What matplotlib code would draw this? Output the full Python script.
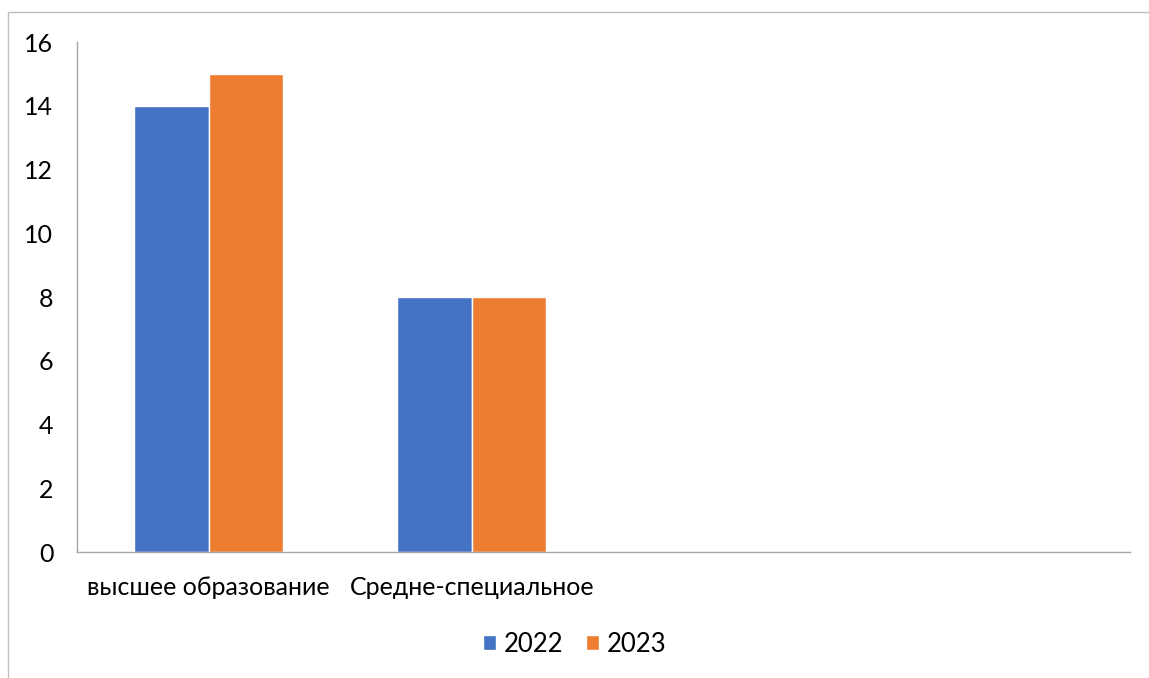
import matplotlib.pyplot as plt
import numpy as np
from matplotlib.patches import Rectangle

plt.rcParams['font.family'] = ['Lato', 'DejaVu Sans']

# данные
categories = ['высшее образование', 'Средне-специальное', '', '']
values_2022 = [14, 8, 0, 0]
values_2023 = [15, 8, 0, 0]
series_names = ['2022', '2023']
y_ticks = [0, 2, 4, 6, 8, 10, 12, 14, 16]

fig = plt.figure(figsize=(11.49, 6.78), dpi=100)
# рамка вокруг области диаграммы
fig.patches.append(Rectangle((8 / 1149, -0.1), 1.2, (678 - 12) / 678 + 0.1,
                             transform=fig.transFigure, fill=False,
                             edgecolor='#BFBFBF', linewidth=1))

ax = fig.add_axes([77 / 1149, (678 - 552) / 678, (1130 - 77) / 1149, (552 - 42) / 678])

x = np.arange(len(categories))
w = 0.283
ax.bar(x - w / 2, values_2022, w, color='#4472C4', edgecolor='white', linewidth=1, label=series_names[0])
ax.bar(x + w / 2, values_2023, w, color='#ED7D31', edgecolor='white', linewidth=1, label=series_names[1])

ax.set_xlim(-0.5, len(categories) - 0.5)
ax.set_ylim(0, 16)
ax.set_yticks(y_ticks)
ax.set_xticks(x)
ax.set_xticklabels(categories)
ax.tick_params(axis='both', length=0, labelsize=18, colors='black')
ax.tick_params(axis='y', pad=17)
ax.tick_params(axis='x', pad=17)

for s in ['top', 'right']:
    ax.spines[s].set_visible(False)
for s in ['left', 'bottom']:
    ax.spines[s].set_color('#A6A6A6')
    ax.spines[s].set_linewidth(1)

fig.legend(loc='center', bbox_to_anchor=(0.5, (678 - 644) / 678), ncol=2, frameon=False,
           fontsize=18.5, handlelength=0.5, handleheight=0.5, handletextpad=0.3, columnspacing=0.9)

plt.savefig('out.png', dpi=100)
